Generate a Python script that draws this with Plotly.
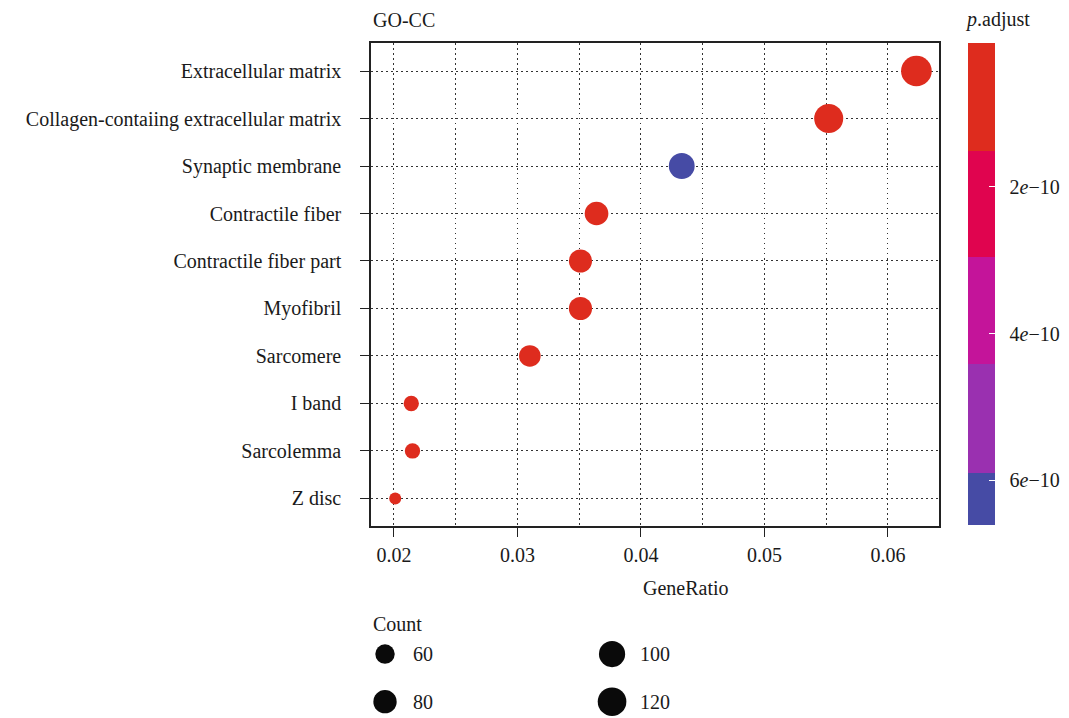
import numpy as np
import plotly.graph_objects as go

# ---------------- data ----------------
terms = ["Extracellular matrix", "Collagen-contaiing extracellular matrix",
         "Synaptic membrane", "Contractile fiber", "Contractile fiber part",
         "Myofibril", "Sarcomere", "I band", "Sarcolemma", "Z disc"]
gene_ratio = [0.0623, 0.0552, 0.0433, 0.0364, 0.0351, 0.0351, 0.0310, 0.0214, 0.0215, 0.0201]
counts = [140, 124, 97, 82, 79, 79, 70, 48, 48, 45]
p_adjust = [5.0e-12, 6.0e-12, 6.61e-10, 2.1e-11, 3.5e-11, 3.5e-11, 4.2e-11, 8.0e-11, 9.0e-11, 1.0e-10]

x_ticks = [0.02, 0.03, 0.04, 0.05, 0.06]
x_tick_labels = ["0.02", "0.03", "0.04", "0.05", "0.06"]
cbar_ticks = [2e-10, 4e-10, 6e-10]
cbar_tick_labels = ["2<i>e</i>\u221210", "4<i>e</i>\u221210", "6<i>e</i>\u221210"]
legend_counts = [60, 80, 100, 120]

# ---------------- style ----------------
W, H = 1069, 718
FONT = "Liberation Serif"
TXT = "#1a1a1a"
RED, CRIMSON, MAGENTA, PURPLE, BLUE = "#DE2C1E", "#E0044F", "#C4149A", "#9A30B0", "#464BA5"
colorscale = [[0.0, BLUE], [0.108, BLUE], [0.108, PURPLE], [0.335, PURPLE],
              [0.335, MAGENTA], [0.555, MAGENTA], [0.555, CRIMSON], [0.775, CRIMSON],
              [0.775, RED], [1.0, RED]]

cmin_c, cmax_c = min(counts), max(counts)
def size_of(c):
    t = np.clip((np.asarray(c, float) - cmin_c) / (cmax_c - cmin_c), 0, 1)
    return 12 + 18.7 * np.sqrt(t)

def px_x(px):
    return px / W

def px_y(py):
    return 1 - py / H

n = len(terms)
cat_order = list(reversed(terms))  # bottom to top

CB_LEFT, CB_THICK, CB_TOP, CB_LEN = 967.7, 27, 43.3, 482
PAD = "\u00a0\u00a0"

fig = go.Figure()

fig.add_trace(go.Scatter(
    x=gene_ratio, y=terms, mode="markers",
    marker=dict(size=size_of(counts), color=[-p for p in p_adjust],
                colorscale=colorscale, cmin=-max(p_adjust), cmax=-min(p_adjust),
                line=dict(width=0), opacity=1,
                colorbar=dict(
                    x=px_x(CB_LEFT), xanchor="left", xref="paper",
                    y=px_y(CB_TOP), yanchor="top", yref="paper",
                    len=CB_LEN, lenmode="pixels", thickness=CB_THICK,
                    xpad=0, ypad=0, outlinewidth=0,
                    tickmode="array", tickvals=[-v for v in cbar_ticks],
                    ticktext=[PAD + t for t in cbar_tick_labels],
                    ticks="inside", ticklen=6, tickwidth=1.2, tickcolor="white",
                    tickfont=dict(family=FONT, size=20, color=TXT),
                )),
    showlegend=False, xaxis="x", yaxis="y",
))

# Count legend (drawn in an auxiliary invisible axis)
leg_col = [i // 2 for i in range(len(legend_counts))]
leg_row = [-(i % 2) for i in range(len(legend_counts))]
fig.add_trace(go.Scatter(
    x=leg_col, y=leg_row, mode="markers",
    marker=dict(size=size_of(legend_counts), color="#0a0a0a", line=dict(width=0), opacity=1),
    showlegend=False, xaxis="x2", yaxis="y2", hoverinfo="skip",
))

grid_dash = "1.5px,3.5px"
fig.update_layout(
    width=W, height=H,
    margin=dict(l=0, r=0, t=0, b=0),
    paper_bgcolor="white", plot_bgcolor="white",
    font=dict(family=FONT, size=20, color=TXT),
    xaxis=dict(
        domain=[px_x(371), px_x(939)], anchor="y",
        range=[0.01814, 0.06413],
        tickmode="array", tickvals=x_ticks, ticktext=x_tick_labels,
        ticks="outside", ticklen=9, tickwidth=1.3, tickcolor="#222",
        ticklabelstandoff=1,
        showline=True, linecolor="#222", linewidth=1.5, mirror=True,
        showgrid=True, gridcolor="#333", gridwidth=1, griddash=grid_dash,
        minor=dict(dtick=0.005, tick0=0.0, showgrid=True, gridcolor="#333",
                   gridwidth=1, griddash=grid_dash, ticks=""),
        zeroline=False, tickfont=dict(family=FONT, size=20, color=TXT),
    ),
    yaxis=dict(
        domain=[px_y(526), px_y(43)], anchor="x",
        type="category", categoryorder="array", categoryarray=cat_order,
        range=[-0.58, n - 1 + 0.59],
        ticks="outside", ticklen=9, tickwidth=1.3, tickcolor="#222",
        ticklabelstandoff=15,
        showline=True, linecolor="#222", linewidth=1.5, mirror=True,
        showgrid=True, gridcolor="#333", gridwidth=1, griddash=grid_dash,
        zeroline=False, tickfont=dict(family=FONT, size=20, color=TXT),
    ),
    xaxis2=dict(domain=[px_x(371), px_x(939)], anchor="y2", range=[-0.0617, 2.44],
                visible=False, fixedrange=True),
    yaxis2=dict(domain=[0, px_y(640)], anchor="x2", range=[-1.342, 0.294],
                visible=False, fixedrange=True),
)

annotations = [
    dict(text="GO-CC", x=px_x(371), y=px_y(20), xref="paper", yref="paper",
         xanchor="left", yanchor="middle", showarrow=False,
         font=dict(family=FONT, size=20, color=TXT)),
    dict(text="GeneRatio", x=px_x(686), y=px_y(588), xref="paper", yref="paper",
         xanchor="center", yanchor="middle", showarrow=False,
         font=dict(family=FONT, size=20, color=TXT)),
    dict(text="<i>p</i>.adjust", x=px_x(963), y=px_y(19), xref="paper", yref="paper",
         xanchor="left", yanchor="middle", showarrow=False,
         font=dict(family=FONT, size=20, color=TXT)),
    dict(text="Count", x=px_x(371), y=px_y(624), xref="paper", yref="paper",
         xanchor="left", yanchor="middle", showarrow=False,
         font=dict(family=FONT, size=20, color=TXT)),
]
for c, col, row in zip(legend_counts, leg_col, leg_row):
    annotations.append(dict(text=str(c), x=col + 26 / 227, y=row, xref="x2", yref="y2",
                            xanchor="left", yanchor="middle", showarrow=False,
                            font=dict(family=FONT, size=20, color=TXT)))
fig.update_layout(annotations=annotations)

fig.write_html("out.html", config={"displayModeBar": False},
               post_script="document.body.style.margin='0px';document.body.style.padding='0px';")
